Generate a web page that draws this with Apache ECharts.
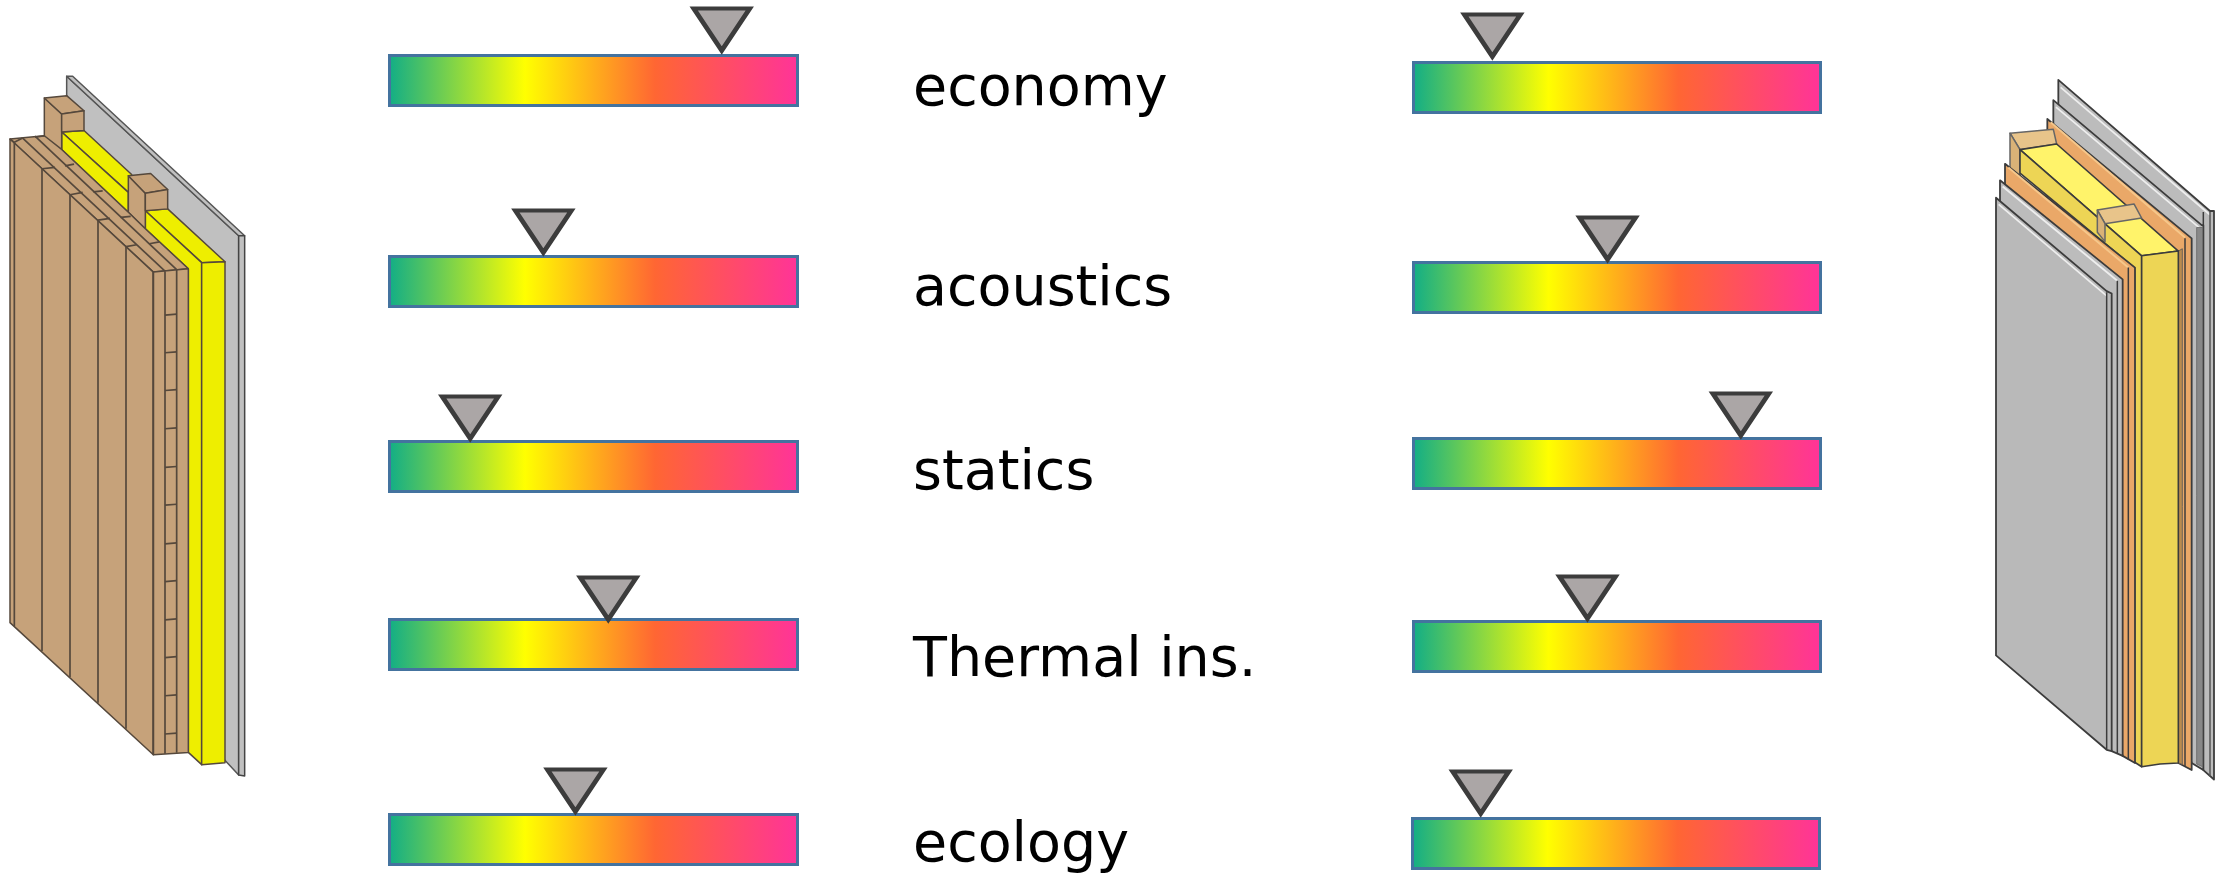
<!DOCTYPE html>
<html><head><meta charset="utf-8">
<style>html,body{margin:0;padding:0;background:#fff}#c{width:2216px;height:874px}</style>
<script src="https://cdn.jsdelivr.net/npm/echarts@6/dist/echarts.min.js"></script>
</head><body><div id="c"></div>
<script>
// ---- data ----
const criteria = ['economy','acoustics','statics','Thermal ins.','ecology'];
const leftValues = [81.2, 37.8, 20, 53.6, 45.6];
const rightValues = [19.6, 47.7, 80.2, 42.8, 17];
// ---- layout ----
const barH = 53;
const leftBars = {x0:388, w:411, tops:[54,255,440,618,813], markerAdj:[0,1,2,5,2]};
const rightBars = {x0:[1412,1412,1412,1412,1411], w:410, tops:[61,261,437,620,817], markerAdj:[-1,2,2,2,0]};
const labelX = 913, labelY = [91,291,475,662,847];
const gradient = {type:'linear',x:0,y:0,x2:1,y2:0,colorStops:[
  {offset:0,color:'#10ad87'},{offset:.333,color:'#ffff00'},{offset:.65,color:'#ff6633'},{offset:1,color:'#ff3399'}]};

const grid=[],xAxis=[],yAxis=[],series=[];
function addRow(left,top,w,name,val,adj){
  const i=grid.length;
  grid.push({left,top,width:w,height:barH});
  xAxis.push({gridIndex:i,type:'value',min:0,max:100,show:false});
  yAxis.push({gridIndex:i,type:'category',data:[name],show:false});
  series.push({type:'bar',xAxisIndex:i,yAxisIndex:i,data:[100],barWidth:'100%',silent:true,
    itemStyle:{color:gradient,borderColor:'#44739f',borderWidth:3}});
  series.push({type:'scatter',xAxisIndex:i,yAxisIndex:i,data:[[val,name]],z:5,clip:false,silent:true,
    symbol:'path://M0,0L56,0L28,42Z',symbolSize:[56,42],symbolOffset:[0,-51+adj],
    itemStyle:{color:'#aba6a6',borderColor:'#3c3c3c',borderWidth:4.5,opacity:1}});
}
criteria.forEach((c,i)=>{
  addRow(leftBars.x0,leftBars.tops[i],leftBars.w,c,leftValues[i],leftBars.markerAdj[i]);
  addRow(rightBars.x0[i],rightBars.tops[i],rightBars.w,c,rightValues[i],rightBars.markerAdj[i]);
});

// ---- wall illustrations ----
const gfx=[];
const L=(x,y)=>[x/3, 76.3+(y-57)*0.4718];
const R=(x,y)=>[1960+x/3, 60+y*0.4718];
const poly=(m,pts,fill,stroke,lw)=>gfx.push({type:'polygon',silent:true,shape:{points:pts.map(p=>m(p[0],p[1]))},
  style:{fill,stroke:stroke||'#55483c',lineWidth:lw==null?1.5:lw,lineJoin:'round'}});
const line=(m,pts,stroke,lw)=>gfx.push({type:'polyline',silent:true,shape:{points:pts.map(p=>m(p[0],p[1]))},
  style:{fill:null,stroke:stroke||'#55483c',lineWidth:lw||1.7}});

// left wall
const wood='#c6a27a', yel='#eeee00', gr='#c0c0c0';
poly(L,[[200,57],[716,395],[716,1538],[600,1450],[200,600]],gr,'#555');
poly(L,[[200,57],[218,57],[734,395],[716,395]],gr,'#555');
poly(L,[[716,395],[734,395],[734,1540],[716,1538]],gr,'#444');
// stud 1 + first insulation section
poly(L,[[185,175],[252,172],[395,265],[385,303]],yel);
poly(L,[[185,175],[385,303],[385,345],[185,212]],yel);
poly(L,[[133,103],[185,137],[185,230],[133,230]],wood);
poly(L,[[133,103],[200,98],[252,130],[185,137]],wood);
poly(L,[[185,137],[252,130],[252,172],[185,175]],wood);
// second insulation section
poly(L,[[436,342],[503,338],[675,450],[605,452]],yel);
poly(L,[[436,342],[605,452],[605,1516],[565,1490],[565,465],[436,380]],yel);
poly(L,[[605,452],[675,450],[675,1512],[605,1516]],yel);
// stud 2
poly(L,[[385,268],[436,305],[436,380],[385,345]],wood);
poly(L,[[385,268],[452,263],[503,297],[436,305]],wood);
poly(L,[[436,305],[503,297],[503,338],[436,342]],wood);
// boards
poly(L,[[30,190],[133,183],[185,212],[385,345],[436,380],[565,465],[460,472]],wood);
poly(L,[[30,190],[460,472],[460,1495],[30,1215]],wood);
poly(L,[[460,472],[565,465],[565,1490],[460,1495]],wood);
[[43,197,1222],[126,253,1275],[210,308,1330],[294,362,1385],[378,418,1440],[460,472,1495],[495,470,1493],[530,467,1491]]
  .forEach(v=>line(L,[[v[0],v[1]],[v[0],v[2]]]));
line(L,[[43,197],[30,190]]);
[[[68,188],[495,470]],[[105,184],[530,467]]].forEach(s=>line(L,s));
[[126,253,165,250],[210,308,248,303],[294,362,330,358],[378,418,410,414],
 [195,247,222,243],[280,302,308,300],[362,356,392,354],[448,412,478,408],[105,186,135,183],[43,197,68,188]]
  .forEach(t=>line(L,[[t[0],t[1]],[t[2],t[3]]]));
[562,642,722,803,885,965,1047,1127,1208,1288,1369,1450].forEach(y=>line(L,[[495,y+1],[530,y-1]]));

// right wall
const g2='#bcbcbc', org='#eaa868', yt='#fff36a', yf='#edd555', stud='#e8c48a', edge='#3c3c3c';
// rear plates
poly(R,[[295,42],[750,320],[762,320],[762,1525],[730,1505],[295,500]],g2,edge,1.8);
line(R,[[302,58],[750,328]],'#eeeeee',1.8);
line(R,[[730,322],[730,1505]],edge,1.5);
line(R,[[750,322],[750,1518]],'#555',1.5);
poly(R,[[280,85],[725,350],[730,350],[730,1505],[695,1490],[280,500]],g2,edge,1.8);
line(R,[[288,100],[722,358]],'#eeeeee',1.8);
poly(R,[[710,355],[728,355],[728,1498],[710,1492]],'#888','#666',.8);
// rear sheathing
poly(R,[[262,125],[695,378],[695,1505],[655,1490],[262,500]],org,edge,1.8);
line(R,[[272,132],[675,376]],'#f6c78a',2);
line(R,[[675,378],[675,1498]],edge,1.5);
poly(R,[[655,405],[667,400],[667,1493],[655,1490]],'#b98b4f','#555',.8);
// stud 1
poly(R,[[150,155],[280,147],[290,178],[180,190]],stud,'#666');
poly(R,[[150,155],[180,190],[180,260],[150,240]],'#d9b277','#666');
// insulation
poly(R,[[180,190],[290,178],[655,405],[545,415]],yt,edge,1.6);
poly(R,[[180,190],[545,415],[545,1498],[523,1488],[523,440],[180,240]],yf,edge,1.6);
poly(R,[[545,415],[655,405],[655,1490],[600,1492],[545,1498]],yf,edge,1.6);
// stud 2
poly(R,[[412,318],[522,305],[545,335],[435,347]],stud,'#666');
poly(R,[[412,318],[435,347],[435,385],[412,365]],'#d9b277','#666');
// front sheathing
poly(R,[[135,220],[525,440],[525,1490],[488,1475],[135,500]],org,edge,1.8);
line(R,[[145,228],[505,440]],'#f6c78a',2);
line(R,[[505,440],[505,1483]],edge,1.5);
// front plates
poly(R,[[120,255],[488,465],[488,1475],[455,1465],[120,600]],g2,edge,1.8);
line(R,[[128,268],[472,468]],'#eeeeee',1.8);
line(R,[[472,468],[472,1470]],edge,1.5);
poly(R,[[108,292],[440,490],[455,495],[455,1465],[440,1462],[108,1262]],'#b9b9b9',edge,1.8);
line(R,[[116,306],[440,500]],'#eeeeee',1.8);
line(R,[[440,492],[440,1462]],edge,1.5);

// labels
criteria.forEach((c,i)=>gfx.push({type:'text',silent:true,x:labelX,y:labelY[i],
  style:{text:c,fill:'#000',font:'55.5px "DejaVu Sans"',textAlign:'left',textVerticalAlign:'middle'}}));

const chart=echarts.init(document.getElementById('c'),null,{renderer:'canvas'});
chart.setOption({animation:false,backgroundColor:'#fff',tooltip:{show:false},grid,xAxis,yAxis,series,graphic:{elements:gfx}});
</script></body></html>
